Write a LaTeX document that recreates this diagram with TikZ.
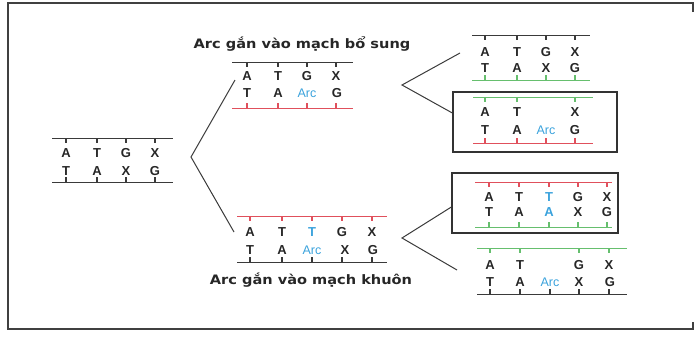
\documentclass[tikz,border=0pt]{standalone}
\usepackage{fontspec}
\usepackage{graphicx}
\newfontfamily\lsans{Liberation Sans}
\newfontfamily\djv{DejaVu Sans}
\definecolor{strred}{HTML}{E0505C}
\definecolor{strgreen}{HTML}{66BF6E}
\definecolor{arcblue}{HTML}{3AA2DC}
\definecolor{linegray}{HTML}{3A3A3A}
\tikzset{
  base/.style={inner sep=0pt, font=\lsans\bfseries\fontsize{13}{15}\selectfont, text=black!85},
  arcl/.style={inner sep=0pt, font=\lsans\fontsize{12.5}{15}\selectfont, text=arcblue},
  bluel/.style={inner sep=0pt, font=\lsans\bfseries\fontsize{13}{15}\selectfont, text=arcblue},
  lbl/.style={inner sep=0pt, font=\djv\bfseries\fontsize{13}{15}\selectfont, text=black!85},
  conn/.style={draw=linegray, line width=1pt},
  frame/.style={draw=black!75, line width=1.5pt},
  boxst/.style={draw=black!80, line width=1.3pt, rectangle, inner sep=0pt, minimum width=#1},
}
% strand line: color, y, x1, x2, tick dir (+1 down, -1 up), list of tick x
\newcommand\strandln[6]{%
  \draw[#1, line width=1pt] (#3,#2) -- (#4,#2);
  \foreach \tx in {#6} \draw[#1, line width=1.1pt] (\tx,#2) -- ++(0,#5*5);
}
\begin{document}
\begin{tikzpicture}[x=1pt,y=-1pt]
\useasboundingbox (0,0) rectangle (699,338);
% outer frame
\draw[frame] (693,12) -- (693,3) -- (8,3) -- (8,329) -- (693,329) -- (693,322);

% ---- left group
\strandln{linegray}{138}{52}{173}{1}{66,97,126,155}
\foreach \x/\t/\s [count=\i] in {66/A/base,97/T/base,126/G/base,155/X/base}
  \node[\s] (La\i) at (\x,153) {\t};
\foreach \x/\t/\s [count=\i] in {66/T/base,97/A/base,126/X/base,155/G/base}
  \node[\s] (Lb\i) at (\x,171) {\t};
\strandln{linegray}{182}{52}{173}{-1}{66,97,126,155}

% ---- upper middle group
\node[lbl] (lab1) at (302,44) {\scalebox{1.12}[1]{Arc gắn vào mạch bổ sung}};
\strandln{linegray}{62}{232}{353}{1}{247,278,307,336}
\foreach \x/\t/\s [count=\i] in {247/A/base,278/T/base,307/G/base,336/X/base}
  \node[\s] (Ua\i) at (\x,76) {\t};
\foreach \x/\t/\s [count=\i] in {247/T/base,278/A/base,307/Arc/arcl,337/G/base}
  \node[\s] (Ub\i) at (\x,93) {\t};
\strandln{strred}{108}{232}{353}{-1}{247,278,307,336}

% ---- lower middle group
\strandln{strred}{216}{237}{387}{1}{250,282,312,342,372}
\foreach \x/\t/\s [count=\i] in {250/A/base,282/T/base,312/T/bluel,342/G/base,372/X/base}
  \node[\s] (Da\i) at (\x,232) {\t};
\foreach \x/\t/\s [count=\i] in {250/T/base,282/A/base,312/Arc/arcl,345/X/base,373/G/base}
  \node[\s] (Db\i) at (\x,250) {\t};
\strandln{linegray}{262}{237}{387}{-1}{250,282,312,342,372}
\node[lbl] (lab2) at (311,280) {\scalebox{1.12}[1]{Arc gắn vào mạch khuôn}};

% ---- top right group
\strandln{linegray}{35}{472}{590}{1}{485,517,546,575}
\foreach \x/\t/\s [count=\i] in {485/A/base,517/T/base,546/G/base,575/X/base}
  \node[\s] (Ra\i) at (\x,52) {\t};
\foreach \x/\t/\s [count=\i] in {485/T/base,517/A/base,546/X/base,575/G/base}
  \node[\s] (Rb\i) at (\x,68) {\t};
\strandln{strgreen}{80}{472}{590}{-1}{485,517,546,575}

% ---- box 1
\node[boxst=164pt, minimum height=60pt] (box1) at (535,122) {};
\strandln{strgreen}{97}{473}{593}{1}{485,517,575}
\foreach \x/\t/\s [count=\i] in {485/A/base,517/T/base,575/X/base}
  \node[\s] (Sa\i) at (\x,112) {\t};
\foreach \x/\t/\s [count=\i] in {485/T/base,517/A/base,546/Arc/arcl,575/G/base}
  \node[\s] (Sb\i) at (\x,130) {\t};
\strandln{strred}{143}{473}{593}{-1}{485,517,546,575}

% ---- box 2
\node[boxst=166pt, minimum height=60pt] (box2) at (535,203) {};
\strandln{strred}{182}{475}{612}{1}{489,519,549,578,607}
\foreach \x/\t/\s [count=\i] in {489/A/base,519/T/base,549/T/bluel,578/G/base,607/X/base}
  \node[\s] (Ba\i) at (\x,197) {\t};
\foreach \x/\t/\s [count=\i] in {489/T/base,519/A/base,549/A/bluel,578/X/base,607/G/base}
  \node[\s] (Bb\i) at (\x,212) {\t};
\strandln{strgreen}{227}{475}{612}{-1}{489,519,549,578,607}

% ---- lower right group
\strandln{strgreen}{248}{477}{627}{1}{490,520,579,609}
\foreach \x/\t/\s [count=\i] in {490/A/base,520/T/base,579/G/base,609/X/base}
  \node[\s] (Ca\i) at (\x,265) {\t};
\foreach \x/\t/\s [count=\i] in {490/T/base,520/A/base,550/Arc/arcl,579/X/base,610/G/base}
  \node[\s] (Cb\i) at (\x,282) {\t};
\strandln{linegray}{294}{477}{627}{-1}{490,520,550,579,609}

% ---- connectors
\coordinate (vL) at (191,157);
\coordinate (eU) at (235,80);
\coordinate (eD) at (234,232);
\coordinate (vU) at (402,85);
\coordinate (eTR) at (460,53);
\coordinate (eB1) at (box1.west |- 0,113);
\coordinate (vD) at (402,238);
\coordinate (eB2) at (box2.west |- 0,207);
\coordinate (eLR) at (457,270);
\draw[conn] (eU) -- (vL) -- (eD);
\draw[conn] (eTR) -- (vU) -- (eB1);
\draw[conn] (eB2) -- (vD) -- (eLR);
\end{tikzpicture}
\end{document}
